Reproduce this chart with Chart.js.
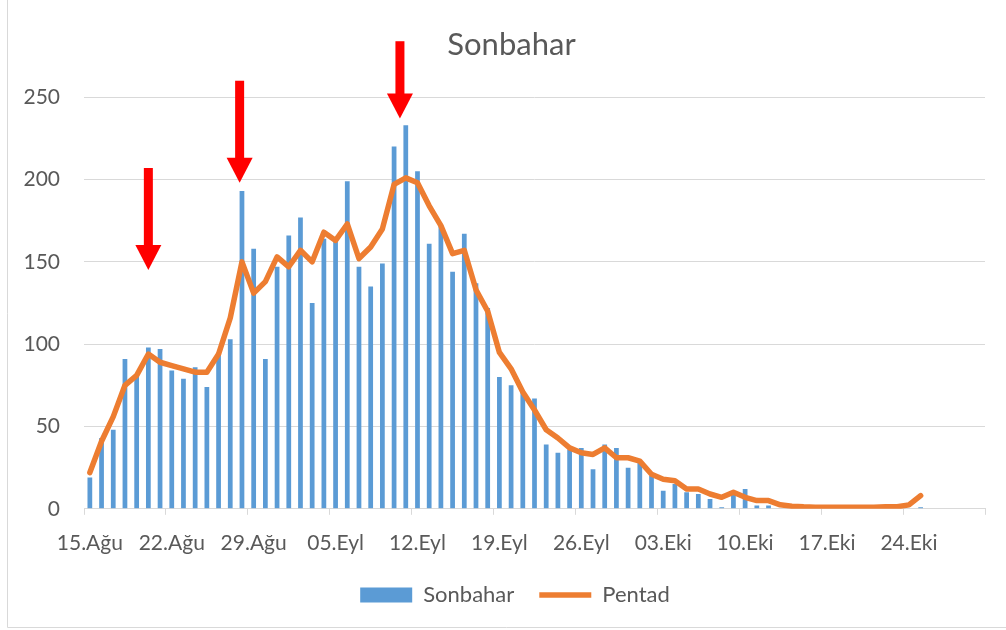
<!DOCTYPE html>
<html>
<head>
<meta charset="utf-8">
<script src="https://cdn.jsdelivr.net/npm/chart.js@4/dist/chart.umd.min.js"></script>
<style>
  html, body { margin: 0; padding: 0; background: #fff; }
  #wrap { width: 1006px; height: 630px; position: relative; }
</style>
</head>
<body>
<div id="wrap"><canvas id="grafico"></canvas></div>
<script>
// ----------------- DATOS -----------------
const dias = [
  '15.Ağu','16.Ağu','17.Ağu','18.Ağu','19.Ağu','20.Ağu','21.Ağu','22.Ağu','23.Ağu','24.Ağu',
  '25.Ağu','26.Ağu','27.Ağu','28.Ağu','29.Ağu','30.Ağu','31.Ağu',
  '01.Eyl','02.Eyl','03.Eyl','04.Eyl','05.Eyl','06.Eyl','07.Eyl','08.Eyl','09.Eyl','10.Eyl',
  '11.Eyl','12.Eyl','13.Eyl','14.Eyl','15.Eyl','16.Eyl','17.Eyl','18.Eyl','19.Eyl','20.Eyl',
  '21.Eyl','22.Eyl','23.Eyl','24.Eyl','25.Eyl','26.Eyl','27.Eyl','28.Eyl','29.Eyl','30.Eyl',
  '01.Eki','02.Eki','03.Eki','04.Eki','05.Eki','06.Eki','07.Eki','08.Eki','09.Eki','10.Eki',
  '11.Eki','12.Eki','13.Eki','14.Eki','15.Eki','16.Eki','17.Eki','18.Eki','19.Eki','20.Eki',
  '21.Eki','22.Eki','23.Eki','24.Eki','25.Eki','26.Eki','27.Eki','28.Eki','29.Eki','30.Eki'
];
const etiquetasEje = ['15.Ağu','22.Ağu','29.Ağu','05.Eyl','12.Eyl','19.Eyl','26.Eyl','03.Eki','10.Eki','17.Eki','24.Eki'];

const sonbahar = [
  19,43,48,91,81,98,97,84,79,86,
  74,95,103,193,158,91,147,166,177,125,
  164,165,199,147,135,149,220,233,205,161,
  172,144,167,137,122,80,75,71,67,39,
  34,36,37,24,39,37,25,28,20,11,
  15,10,9,6,1,9,12,2,2,0,
  0,0,0,0,0,0,0,0,0,0,
  0,1,0,0,0,0,0
];
const pentad = [
  22,41,56,75,81,94,89,87,85,83,
  83,94,116,150,131,138,153,147,157,150,
  168,163,173,152,159,170,197,201,198,184,
  172,155,157,133,120,95,85,71,60,48,
  43,37,34,33,37,31,31,29,21,18,
  17,12,12,9,7,10,7,5,5,2.4,
  1.6,1.2,1,1,1,1,1,1,1.2,1.2,
  2.4,8,null,null,null,null,null
];

// flechas rojas: posicion (indice de dia), punta y cola (en unidades del eje Y)
const flechaDia = [5, 12.8, 26.5];
const flechaPunta = [145, 198, 237];
const flechaCola = [207, 260, 284];

const gris = '#595959';
const fuente = 'Lato, "Open Sans", sans-serif';

// ----------------- PLUGINS -----------------
const marco = {
  id: 'marco',
  beforeDraw(chart) {
    const c = chart.ctx;
    c.save();
    c.strokeStyle = '#d9d9d9';
    c.lineWidth = 1;
    c.beginPath();
    c.moveTo(7.5, 0);
    c.lineTo(7.5, 627.5);
    c.lineTo(1006, 627.5);
    c.stroke();
    c.restore();
  }
};

// titulo y leyenda algo desplazados como en el original
const ajuste = {
  id: 'ajuste',
  afterLayout(chart) {
    const lg = chart.legend;
    if (lg) { lg.left += 45; lg.top -= 13; lg.bottom -= 13; }
    const t = chart.titleBlock;
    if (t) { t.left += 38; }
  }
};

const flechas = {
  id: 'flechas',
  afterDraw(chart) {
    const c = chart.ctx;
    const xs = chart.scales.x, ys = chart.scales.y;
    c.save();
    c.fillStyle = '#ff0000';
    flechaDia.forEach((d, i) => {
      const x = xs.getPixelForValue(d);
      const punta = ys.getPixelForValue(flechaPunta[i]);
      const cola = ys.getPixelForValue(flechaCola[i]);
      const cabeza = 25;
      c.fillRect(x - 4.5, cola, 9, punta - cola - cabeza + 1);
      c.beginPath();
      c.moveTo(x - 13, punta - cabeza);
      c.lineTo(x + 13, punta - cabeza);
      c.lineTo(x, punta);
      c.closePath();
      c.fill();
    });
    c.restore();
  }
};

// ----------------- GRAFICO -----------------
const ctx = document.getElementById('grafico');
new Chart(ctx, {
  type: 'bar',
  data: {
    labels: dias,
    datasets: [
      {
        type: 'line',
        label: 'Pentad',
        data: pentad,
        borderColor: '#ed7d31',
        backgroundColor: '#ed7d31',
        borderWidth: 5.5,
        borderCapStyle: 'round',
        borderJoinStyle: 'round',
        pointRadius: 0,
        pointStyle: 'line',
        tension: 0,
        order: 1
      },
      {
        label: 'Sonbahar',
        data: sonbahar,
        backgroundColor: '#5b9bd5',
        borderWidth: 0,
        barPercentage: 0.45,
        categoryPercentage: 0.9,
        pointStyle: 'rect',
        order: 2
      }
    ]
  },
  options: {
    responsive: true,
    maintainAspectRatio: false,
    devicePixelRatio: 1,
    animation: false,
    layout: { padding: { left: 0, right: 21, top: 0, bottom: 1 } },
    plugins: {
      title: {
        display: true,
        text: 'Sonbahar',
        color: gris,
        font: { family: fuente, size: 31, weight: 'normal' },
        padding: { top: 26, bottom: 34 }
      },
      legend: {
        position: 'bottom',
        reverse: true,
        labels: {
          usePointStyle: true,
          pointStyleWidth: 52,
          boxHeight: 15,
          padding: 25,
          color: gris,
          font: { family: fuente, size: 22 }
        }
      },
      tooltip: { enabled: false }
    },
    scales: {
      x: {
        offset: true,
        grid: {
          offset: true,
          drawOnChartArea: false,
          drawTicks: true,
          tickLength: 6,
          lineWidth: 1,
          color: (c) => (c.index === undefined || c.index % 7 === 0) ? '#d9d9d9' : 'rgba(0,0,0,0)'
        },
        border: { display: true, color: '#d9d9d9', width: 1 },
        ticks: {
          autoSkip: false,
          maxRotation: 0,
          minRotation: 0,
          padding: 16,
          color: gris,
          font: { family: fuente, size: 21 },
          callback: function (v) {
            const l = this.getLabelForValue(v);
            return etiquetasEje.includes(l) ? l : '';
          }
        }
      },
      y: {
        min: 0,
        max: 250,
        ticks: { stepSize: 50, padding: 24, color: gris, font: { family: fuente, size: 21 } },
        grid: { color: '#d9d9d9', drawTicks: false, lineWidth: 1 },
        border: { display: false },
        afterFit(s) { s.width = 84; }
      }
    }
  },
  plugins: [marco, ajuste, flechas]
});
</script>
</body>
</html>
